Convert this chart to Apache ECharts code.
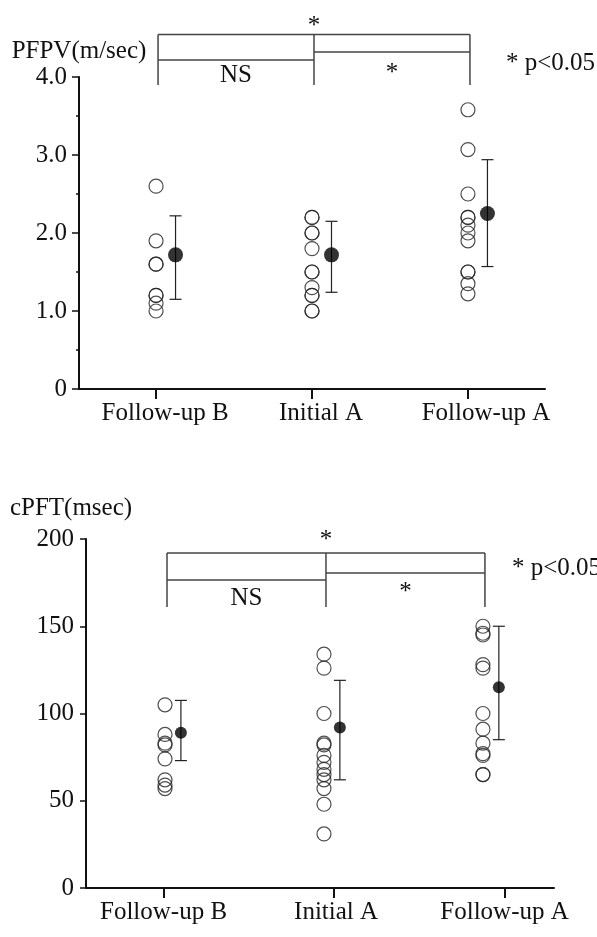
<!DOCTYPE html>
<html>
<head>
<meta charset="utf-8">
<script src="https://cdn.jsdelivr.net/npm/echarts@6/dist/echarts.min.js"></script>
<style>
  html, body { margin: 0; padding: 0; background: #fff; }
  #chart { width: 597px; height: 937px; }
</style>
</head>
<body>
<div id="chart"></div>
<script>
const groups = ["Follow-up B", "Initial A", "Follow-up A"];

// PFPV (m/sec)
const pfpvFollowB = [2.6, 1.9, 1.6, 1.6, 1.2, 1.2, 1.1, 1.0];
const pfpvInitialA = [2.2, 2.2, 2.0, 2.0, 1.8, 1.5, 1.5, 1.3, 1.2, 1.2, 1.0, 1.0];
const pfpvFollowA = [3.58, 3.07, 2.5, 2.2, 2.2, 2.1, 2.0, 1.9, 1.5, 1.5, 1.35, 1.22];
const pfpvMean = [1.72, 1.72, 2.25];
const pfpvUpper = [2.22, 2.15, 2.94];
const pfpvLower = [1.15, 1.24, 1.57];

// cPFT (msec)
const cpftFollowB = [105, 88, 83, 82, 74, 62, 59, 57];
const cpftInitialA = [134, 126, 100, 83, 82, 76, 72, 68, 65, 62, 57, 48, 31];
const cpftFollowA = [150, 146, 145, 128, 126, 100, 91, 83, 77, 76, 65, 65];
const cpftMean = [89, 92, 115];
const cpftUpper = [107.5, 119, 150];
const cpftLower = [73, 62, 85];

const FONT = "'Liberation Serif', 'Times New Roman', serif";
const INK = "#111";

const chart = echarts.init(document.getElementById("chart"), null, { renderer: "canvas" });

function circles(values, pos, xi, yi) {
  return {
    type: "scatter",
    xAxisIndex: xi,
    yAxisIndex: yi,
    symbol: "circle",
    symbolSize: 14,
    clip: false,
    silent: true,
    itemStyle: { color: "rgba(0,0,0,0)", borderColor: "#222", borderWidth: 1.2 },
    data: values.map((v) => [pos, v]),
  };
}

function meanDots(means, shift, size, xi, yi) {
  return {
    type: "scatter",
    xAxisIndex: xi,
    yAxisIndex: yi,
    symbol: "circle",
    symbolSize: size,
    clip: false,
    silent: true,
    z: 4,
    itemStyle: { color: "#000" },
    data: means.map((m, i) => [i + 1 + shift, m]),
  };
}

function errorBars(lower, upper, shift, xi, yi) {
  return {
    type: "custom",
    xAxisIndex: xi,
    yAxisIndex: yi,
    clip: false,
    silent: true,
    z: 3,
    data: lower.map((lo, i) => [i + 1 + shift, lo, upper[i]]),
    renderItem(params, api) {
      const top = api.coord([api.value(0), api.value(2)]);
      const bot = api.coord([api.value(0), api.value(1)]);
      const cap = 6;
      const st = { stroke: "#222", lineWidth: 1.2 };
      return {
        type: "group",
        children: [
          { type: "line", shape: { x1: top[0], y1: top[1], x2: bot[0], y2: bot[1] }, style: st },
          { type: "line", shape: { x1: top[0] - cap, y1: top[1], x2: top[0] + cap, y2: top[1] }, style: st },
          { type: "line", shape: { x1: bot[0] - cap, y1: bot[1], x2: bot[0] + cap, y2: bot[1] }, style: st },
        ],
      };
    },
  };
}

// labelPads: left padding per label, nudges each label right of its tick
function groupAxis(grid, min, max, labelPads) {
  const rich = {};
  labelPads.forEach((p, i) => {
    rich["g" + i] = { fontSize: 25, fontFamily: FONT, color: INK, padding: [0, 0, 0, p] };
  });
  return {
    type: "value",
    gridIndex: grid,
    min: min,
    max: max,
    splitLine: { show: false },
    axisLine: { show: true, lineStyle: { color: INK, width: 2 } },
    axisTick: { show: true, customValues: [1, 2, 3], length: 10, lineStyle: { color: INK, width: 2 } },
    axisLabel: {
      customValues: [1, 2, 3],
      formatter: (v) => {
        const i = Math.round(v) - 1;
        return "{g" + i + "|" + groups[i] + "}";
      },
      margin: 12,
      fontSize: 25,
      fontFamily: FONT,
      color: INK,
      rich: rich,
    },
  };
}

const option = {
  animation: false,
  backgroundColor: "#fff",
  grid: [
    { left: 79, top: 77, width: 466, height: 312, outerBoundsMode: "none" },
    { left: 86, top: 539, width: 468, height: 349, outerBoundsMode: "none" },
  ],
  xAxis: [
    groupAxis(0, 0.506, 3.494, [18, 18, 36]),
    groupAxis(1, 0.545, 3.29, [0, 4, 0]),
    // hidden axis carrying the cPFT points
    { type: "value", gridIndex: 1, min: 0.503, max: 3.447, show: false },
  ],
  yAxis: [
    {
      type: "value",
      gridIndex: 0,
      min: 0,
      max: 4,
      interval: 1,
      name: "PFPV(m/sec)",
      nameLocation: "end",
      nameGap: 13,
      nameTextStyle: { fontSize: 25, fontFamily: FONT, color: INK },
      splitLine: { show: false },
      axisLine: { show: true, lineStyle: { color: INK, width: 2 } },
      axisTick: { show: true, length: 7, lineStyle: { color: INK, width: 1.5 } },
      minorTick: { show: true, splitNumber: 2, length: 3, lineStyle: { color: INK, width: 1.5 } },
      minorSplitLine: { show: false },
      axisLabel: {
        margin: 12,
        fontSize: 25,
        fontFamily: FONT,
        color: INK,
        formatter: (v) => (v === 0 ? "0" : v.toFixed(1)),
      },
    },
    {
      type: "value",
      gridIndex: 1,
      min: 0,
      max: 200,
      interval: 50,
      name: "cPFT(msec)",
      nameLocation: "end",
      nameGap: 18,
      nameTextStyle: { fontSize: 25, fontFamily: FONT, color: INK, padding: [0, 30, 0, 0] },
      splitLine: { show: false },
      axisLine: { show: true, lineStyle: { color: INK, width: 2 } },
      axisTick: { show: true, length: 6, lineStyle: { color: INK, width: 1.5 } },
      axisLabel: { margin: 12, fontSize: 25, fontFamily: FONT, color: INK },
    },
  ],
  series: [
    circles(pfpvFollowB, 1, 0, 0),
    circles(pfpvInitialA, 2, 0, 0),
    circles(pfpvFollowA, 3, 0, 0),
    errorBars(pfpvLower, pfpvUpper, 0.125, 0, 0),
    meanDots(pfpvMean, 0.125, 15, 0, 0),

    circles(cpftFollowB, 1, 2, 1),
    circles(cpftInitialA, 2, 2, 1),
    circles(cpftFollowA, 3, 2, 1),
    errorBars(cpftLower, cpftUpper, 0.1, 2, 1),
    meanDots(cpftMean, 0.1, 12, 2, 1),
  ],
};

chart.setOption(option);

// significance brackets above each panel
const brackets = [
  { xAxisIndex: 0, top: 34.5, leftMid: 60, rightMid: 52, end: 85, star: 26, ns: 75, star2: 73, pX: 506, pY: 63 },
  { xAxisIndex: 2, top: 553, leftMid: 580, rightMid: 573, end: 607, star: 540, ns: 598, star2: 592, pX: 512, pY: 568 },
];

const graphic = [];
const lineStyle = { stroke: "#444", lineWidth: 1.5 };
const textStyle = (txt, x, y, align) => ({
  type: "text",
  x: x,
  y: y,
  silent: true,
  style: { text: txt, fill: INK, font: "25px " + FONT, textAlign: align, textVerticalAlign: "middle" },
});
brackets.forEach((b) => {
  const xs = [1, 2, 3].map((p) => chart.convertToPixel({ xAxisIndex: b.xAxisIndex }, p) + 2);
  const ln = (x1, y1, x2, y2) => ({ type: "line", silent: true, shape: { x1, y1, x2, y2 }, style: lineStyle });
  graphic.push(ln(xs[0], b.top, xs[2], b.top));
  graphic.push(ln(xs[0], b.leftMid, xs[1], b.leftMid));
  graphic.push(ln(xs[1], b.rightMid, xs[2], b.rightMid));
  xs.forEach((x) => graphic.push(ln(x, b.top, x, b.end)));
  graphic.push(textStyle("*", xs[1], b.star, "center"));
  graphic.push(textStyle("NS", (xs[0] + xs[1]) / 2, b.ns, "center"));
  graphic.push(textStyle("*", (xs[1] + xs[2]) / 2, b.star2, "center"));
  graphic.push(textStyle("* p<0.05", b.pX, b.pY, "left"));
});
chart.setOption({ graphic: graphic });
</script>
</body>
</html>
